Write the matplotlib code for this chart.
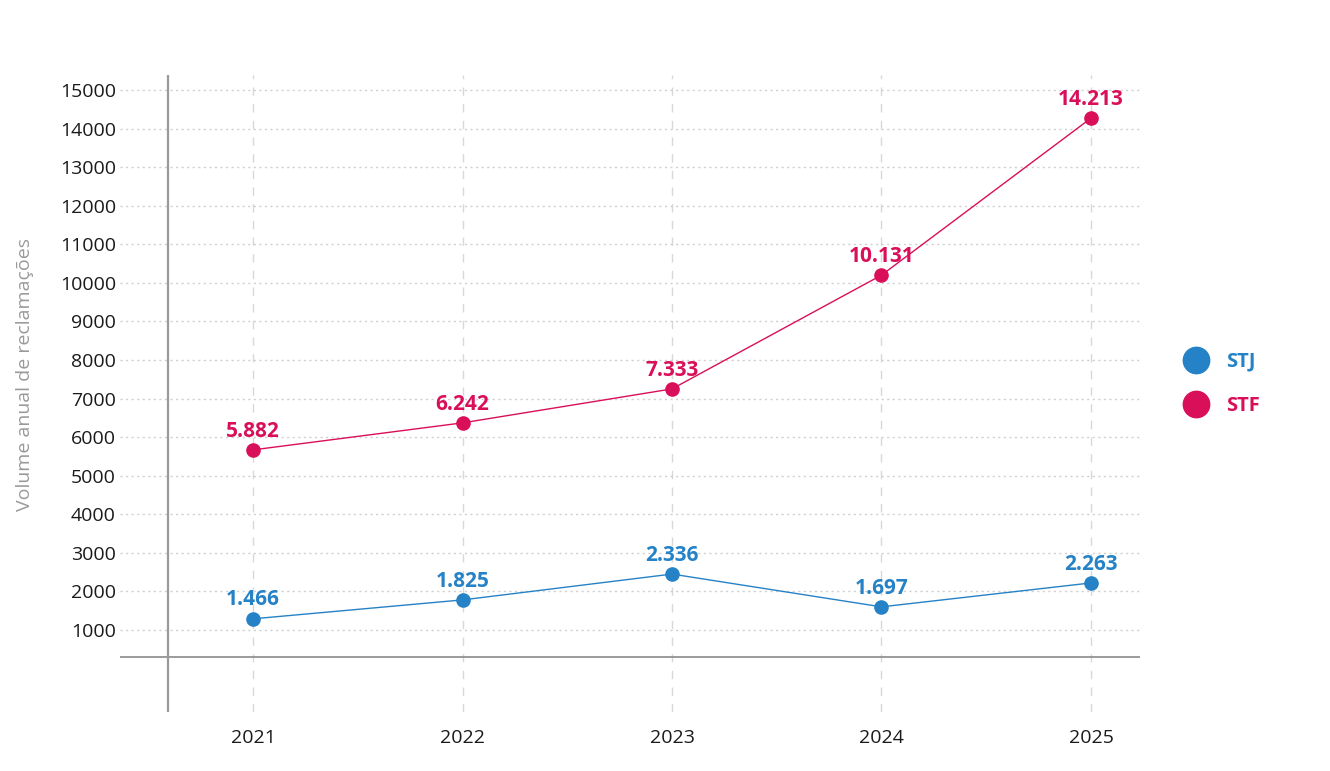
import matplotlib.pyplot as plt
from matplotlib.lines import Line2D

plt.rcParams['font.family'] = ['Open Sans', 'DejaVu Sans']

# data
years = [2021, 2022, 2023, 2024, 2025]
stj_values = [1290, 1780, 2450, 1600, 2220]
stf_values = [5670, 6370, 7250, 10200, 14270]
stj_labels = ['1.466', '1.825', '2.336', '1.697', '2.263']
stf_labels = ['5.882', '6.242', '7.333', '10.131', '14.213']
y_ticks = list(range(1000, 16000, 1000))

STJ_COLOR = '#2582C6'
STF_COLOR = '#D90F59'

fig = plt.figure(figsize=(13.3, 7.71), dpi=100)
W, H = 1330, 771
ax = fig.add_axes([120 / W, 1 - 712 / H, (1140 - 120) / W, (712 - 75) / H])

ax.set_xlim(2020.365, 2025.234)
ax.set_ylim(-1126, 15389)

# grid
ax.set_yticks(y_ticks)
ax.set_yticklabels([str(t) for t in y_ticks])
ax.yaxis.grid(True, color='#cfcfcf', linestyle=(0, (1.5, 2.5)), linewidth=1.0)
ax.set_xticks(years)
ax.set_xticklabels([str(y) for y in years])
for y in years:
    ax.axvline(y, color='#d8d8d8', linestyle=(0, (6, 6)), linewidth=1.0, zorder=0)
ax.set_axisbelow(True)

for s in ax.spines.values():
    s.set_visible(False)
ax.axhline(300, color='#8a8a8a', linewidth=1.2, zorder=1)
ax.axvline(2020.594, color='#9a9a9a', linewidth=1.6, zorder=1)

ax.tick_params(axis='both', length=0, labelsize=14, colors='#1a1a1a')
ax.tick_params(axis='y', pad=3)
ax.tick_params(axis='x', pad=12)

ax.plot(years, stj_values, color=STJ_COLOR, linewidth=1.0, marker='o', markersize=9.5, zorder=3)
ax.plot(years, stf_values, color=STF_COLOR, linewidth=1.0, marker='o', markersize=9.5, zorder=3)

for x, v, lab in zip(years, stj_values, stj_labels):
    ax.annotate(lab, (x, v), xytext=(0, 6), textcoords='offset points', ha='center', va='bottom',
                color=STJ_COLOR, fontsize=15, fontweight='bold')
for x, v, lab in zip(years, stf_values, stf_labels):
    ax.annotate(lab, (x, v), xytext=(0, 6), textcoords='offset points', ha='center', va='bottom',
                color=STF_COLOR, fontsize=15, fontweight='bold')

fig.text(25 / W, 1 - 374 / H, 'Volume anual de reclamações', rotation=90, ha='center', va='center',
         color='#9a9a9a', fontsize=14)

handles = [Line2D([], [], linestyle='none', marker='o', markersize=19, color=STJ_COLOR),
           Line2D([], [], linestyle='none', marker='o', markersize=19, color=STF_COLOR)]
leg = fig.legend(handles, ['STJ', 'STF'], loc='center left', bbox_to_anchor=(1158 / W, 1 - 384 / H),
                 frameon=False, handletextpad=0.5, labelspacing=1.2, prop={'size': 14.5, 'weight': 'bold'})
for txt, c in zip(leg.get_texts(), [STJ_COLOR, STF_COLOR]):
    txt.set_color(c)

fig.savefig('out.png', dpi=100)
